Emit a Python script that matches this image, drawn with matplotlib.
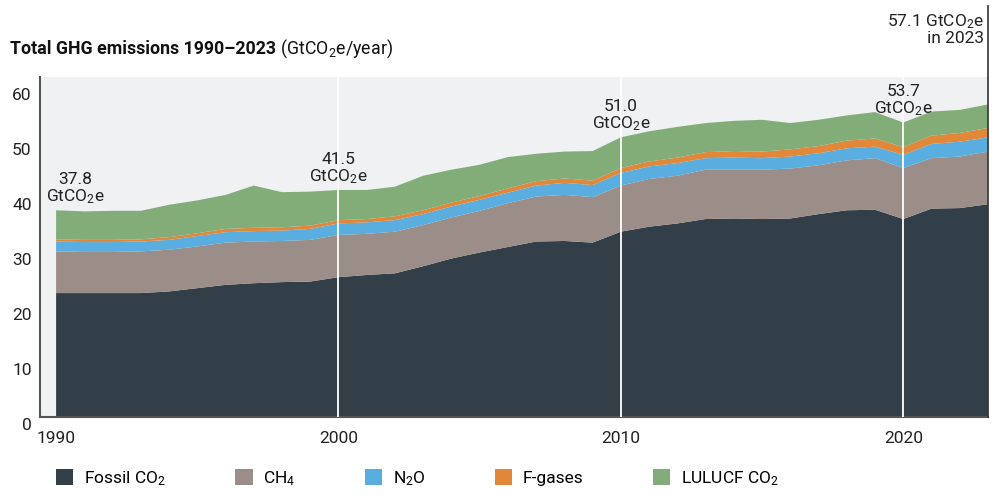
import matplotlib
matplotlib.use("Agg")
import matplotlib.pyplot as plt
import matplotlib.transforms as mtransforms
from matplotlib.patches import Patch
import numpy as np

plt.rcParams['font.family'] = ['Roboto', 'DejaVu Sans']
plt.rcParams['mathtext.fontset'] = 'custom'
plt.rcParams['mathtext.rm'] = 'Roboto'
plt.rcParams['mathtext.it'] = 'Roboto:italic'
plt.rcParams['mathtext.bf'] = 'Roboto:bold'

years = np.arange(1990, 2024)
fossil = [22.6, 22.6, 22.6, 22.6, 22.9, 23.5, 24.1, 24.4, 24.6, 24.7,
          25.5, 25.9, 26.2, 27.5, 28.9, 30.0, 31.0, 32.0, 32.1, 31.8,
          33.8, 34.7, 35.3, 36.1, 36.2, 36.1, 36.2, 37.0, 37.7, 37.8,
          36.1, 38.0, 38.1, 38.8]
ch4 = [7.6, 7.5, 7.5, 7.6, 7.6, 7.6, 7.7, 7.6, 7.5, 7.6,
       7.7, 7.5, 7.6, 7.5, 7.5, 7.6, 8.0, 8.2, 8.4, 8.3,
       8.4, 8.7, 8.7, 9.0, 8.9, 9.0, 9.1, 8.9, 9.1, 9.4,
       9.3, 9.2, 9.4, 9.6]
n2o = [1.8, 1.8, 1.8, 1.8, 1.8, 1.9, 1.9, 1.9, 1.9, 2.0,
       2.1, 2.1, 2.1, 2.0, 2.0, 2.0, 1.9, 2.0, 2.2, 2.2,
       2.3, 2.3, 2.3, 2.1, 2.2, 2.1, 2.2, 2.2, 2.2, 2.1,
       2.4, 2.6, 2.7, 2.6]
fgas = [0.4, 0.4, 0.4, 0.4, 0.5, 0.5, 0.6, 0.6, 0.6, 0.6,
        0.6, 0.6, 0.7, 0.7, 0.7, 0.7, 0.8, 0.8, 0.8, 0.8,
        0.9, 0.9, 1.0, 1.1, 1.2, 1.2, 1.3, 1.3, 1.4, 1.5,
        1.4, 1.5, 1.6, 1.7]
lulucf = [5.3, 5.2, 5.3, 5.2, 5.9, 6.0, 6.2, 7.7, 6.4, 6.2,
          5.5, 5.3, 5.4, 6.3, 6.0, 5.7, 5.7, 5.0, 4.9, 5.4,
          5.6, 5.5, 5.6, 5.3, 5.5, 5.8, 4.8, 4.8, 4.6, 4.8,
          4.5, 4.4, 4.2, 4.3]

labels = ['Fossil CO$_2$', 'CH$_4$', 'N$_2$O', 'F-gases', 'LULUCF CO$_2$']
colors = ['#333f48', '#9b8d88', '#5aaedf', '#e0873a', '#82ad79']

# labelled totals
note_years = [1990, 2000, 2010, 2020]
note_vals = [37.8, 41.5, 51.0, 53.7]

fig = plt.figure(figsize=(10, 4.99), dpi=100)
ax = fig.add_axes([0.04, 0.1643, 0.948, 0.6814])
ax.set_facecolor('#f0f1f3')

ax.stackplot(years, fossil, ch4, n2o, fgas, lulucf, colors=colors,
             linewidth=0, zorder=2)

for yr in [2000, 2010, 2020]:
    ax.axvline(yr, color='white', lw=1.3, zorder=3)

ax.set_xlim(1989.43, 2023)
ax.set_ylim(0, 62)
ax.set_yticks(range(0, 61, 10))
ax.set_xticks([1990, 2000, 2010, 2020])
ax.tick_params(axis='both', length=0, labelsize=12.5, colors='#222222')
ax.tick_params(axis='x', pad=10)
ax.tick_params(axis='y', pad=6)
off = mtransforms.ScaledTranslation(0, -0.065, fig.dpi_scale_trans)
for lab in ax.get_yticklabels():
    lab.set_transform(lab.get_transform() + off)

for s in ['top', 'right']:
    ax.spines[s].set_visible(False)
for s in ['left', 'bottom']:
    ax.spines[s].set_color('#555555')
    ax.spines[s].set_linewidth(1.5)

ax.axvline(2023, ymin=0, ymax=1.21, color='#333333', lw=1.2,
           clip_on=False, zorder=4)

totals = np.array(fossil) + np.array(ch4) + np.array(n2o) + np.array(fgas) + np.array(lulucf)
for yr, v in zip(note_years, note_vals):
    top = totals[yr - 1990]
    x = yr + 0.67 if yr == 1990 else yr
    ax.text(x, top + 0.8, f'{v:.1f}\nGtCO$_2$e', ha='center', va='bottom',
            fontsize=12.5, color='#222222', linespacing=1.0, zorder=5)

trans = mtransforms.blended_transform_factory(ax.transData, fig.transFigure)
ax.text(2022.85, 0.975, '57.1 GtCO$_2$e\nin 2023', transform=trans,
        ha='right', va='top', fontsize=12.5, color='#222222',
        linespacing=1.0, multialignment='right')

t1 = fig.text(0.01, 0.902, 'Total GHG emissions 1990\u20132023', fontsize=12.8,
              fontweight='bold', va='center', color='#111111')
ax.annotate(' (GtCO$_2$e/year)', xy=(1, 0.5), xycoords=t1, va='center',
            fontsize=12.8, color='#111111')

handles = [Patch(facecolor=c, edgecolor='none') for c in colors]
fig.legend(handles, labels, loc='center left', bbox_to_anchor=(0.056, 0.042),
           ncol=5, frameon=False, fontsize=12.5, handlelength=1.0,
           handleheight=1.1, handletextpad=0.6, columnspacing=4.0,
           borderpad=0, borderaxespad=0)

fig.savefig('out.png', dpi=100)
